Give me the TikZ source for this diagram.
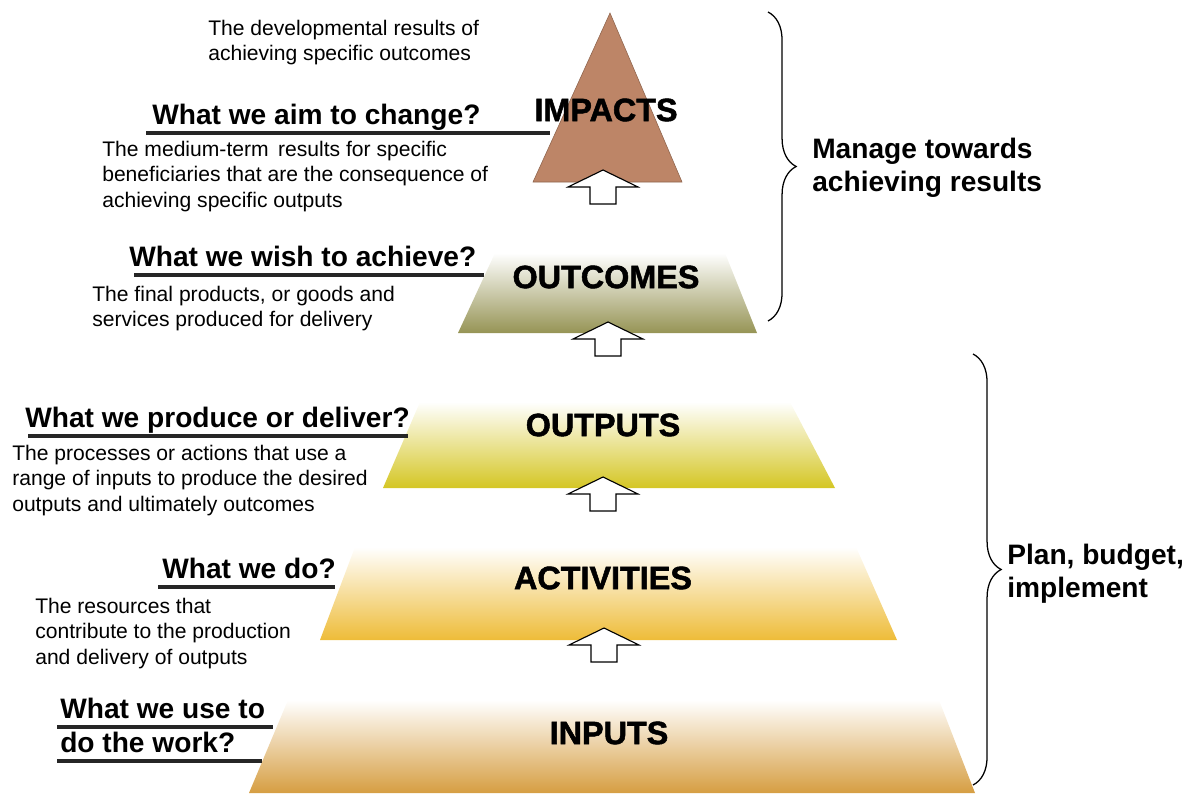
\documentclass[tikz,border=0pt]{standalone}
\usepackage{fontspec}
\setmainfont{Liberation Sans}
\newfontfamily\heavyfont[FakeBold=1.6]{Liberation Sans Bold}
\usetikzlibrary{decorations.pathreplacing}

\definecolor{impactbrown}{RGB}{189,133,103}
\definecolor{outcomeolive}{RGB}{150,148,85}
\definecolor{outputyellow}{RGB}{212,198,36}
\definecolor{activitygold}{RGB}{238,188,56}
\definecolor{inputtan}{RGB}{214,158,66}

\begin{document}
\begin{tikzpicture}[x=0.025cm, y=-0.025cm]
\tikzstyle{question} = [font=\bfseries\fontsize{20}{22}\selectfont, inner sep=0pt, anchor=base west]
\tikzstyle{note} = [font=\fontsize{15}{18}\selectfont, align=left, inner sep=0pt, anchor=north west]
\tikzstyle{tier} = [font=\heavyfont\fontsize{23}{26}\selectfont, inner sep=0pt]
\tikzstyle{sidenote} = [font=\bfseries\fontsize{20}{23.5}\selectfont, align=left, inner sep=0pt, anchor=west]
\tikzstyle{underline} = [line width=2.6pt, black!85]
\tikzstyle{uparrow} = [draw=black, fill=white, line width=0.8pt, line join=miter]
\tikzstyle{curly} = [decorate, decoration={brace, amplitude=20pt}, line width=0.9pt]

\useasboundingbox (0,0) rectangle (1201,795);

% pyramid tiers, top to bottom
\fill[impactbrown, draw=impactbrown!75!black, line width=0.4pt] (610,13) -- (682,182) -- (533,182) -- cycle;
\shade[top color=white, middle color=outcomeolive!55, bottom color=outcomeolive] (495,253) -- (725,253) -- (757,333) -- (458,333) -- cycle;
\shade[top color=white, middle color=outputyellow!65, bottom color=outputyellow] (420,402) -- (790,402) -- (835,488) -- (383,488) -- cycle;
\shade[top color=white, middle color=activitygold!60, bottom color=activitygold] (355,547) -- (856,547) -- (897,640) -- (320,640) -- cycle;
\shade[top color=white, middle color=inputtan!60, bottom color=inputtan] (288,700) -- (939,700) -- (975,793) -- (249,793) -- cycle;

\node[tier] (impacts) at (606,110) {IMPACTS};
\node[tier] (outcomes) at (606,277) {OUTCOMES};
\node[tier] (outputs) at (603,425) {OUTPUTS};
\node[tier] (activities) at (603,578) {ACTIVITIES};
\node[tier] (inputs) at (609,733) {INPUTS};

% block arrows between the tiers
\foreach \ax/\ay in {603/170, 608/322, 603/477, 604/628}
  \draw[uparrow] (\ax,\ay) -- ++(35,17) -- ++(-22,0) -- ++(0,17) -- ++(-26,0) -- ++(0,-17) -- ++(-22,0) -- cycle;

% questions with their underlines
\node[question] (aimq) at (152,124) {What we aim to change?};
\draw[underline] (aimq.base west) ++(-6,9) -- ++(404,0);
\node[question] (wishq) at (129,266) {What we wish to achieve?};
\draw[underline] (wishq.base west) ++(5,9) -- ++(350,0);
\node[question] (produceq) at (25,427) {What we produce or deliver?};
\draw[underline] (produceq.base west) ++(3,9) -- ++(380,0);
\node[question] (doq) at (162,578) {What we do?};
\draw[underline] (doq.base west) ++(-4,9) -- ++(177,0);
\node[question] (useq) at (60,718) {What we use to};
\draw[underline] (useq.base west) ++(-3,9) -- ++(216,0);
\node[question] (workq) at (60,752) {do the work?};
\draw[underline] (workq.base west) ++(-3,9) -- ++(205,0);

% descriptions
\node[note] (impactnote) at (208,20) {The developmental results of\\achieving specific outcomes};
\node[note] (outcomenote) at (102,141) {The medium-term\, results for specific\\beneficiaries that are the consequence of\\achieving specific outputs};
\node[note] (outputnote) at (92,286) {The final products, or goods and\\services produced for delivery};
\node[note] (activitynote) at (12,445) {The processes or actions that use a\\range of inputs to produce the desired\\outputs and ultimately outcomes};
\node[note] (inputnote) at (35,598) {The resources that\\contribute to the production\\and delivery of outputs};

% braces on the right
\coordinate (mtop) at (768,12);
\coordinate (mbot) at (768,321);
\draw[curly] (mtop) -- (mbot);
\node[sidenote] (manage) at (812,168) {Manage towards\\achieving results};

\coordinate (ptop) at (973,354);
\coordinate (pbot) at (973,785);
\draw[curly] (ptop) -- (pbot);
\node[sidenote] (plan) at (1007,574) {Plan, budget,\\implement};

\end{tikzpicture}
\end{document}
